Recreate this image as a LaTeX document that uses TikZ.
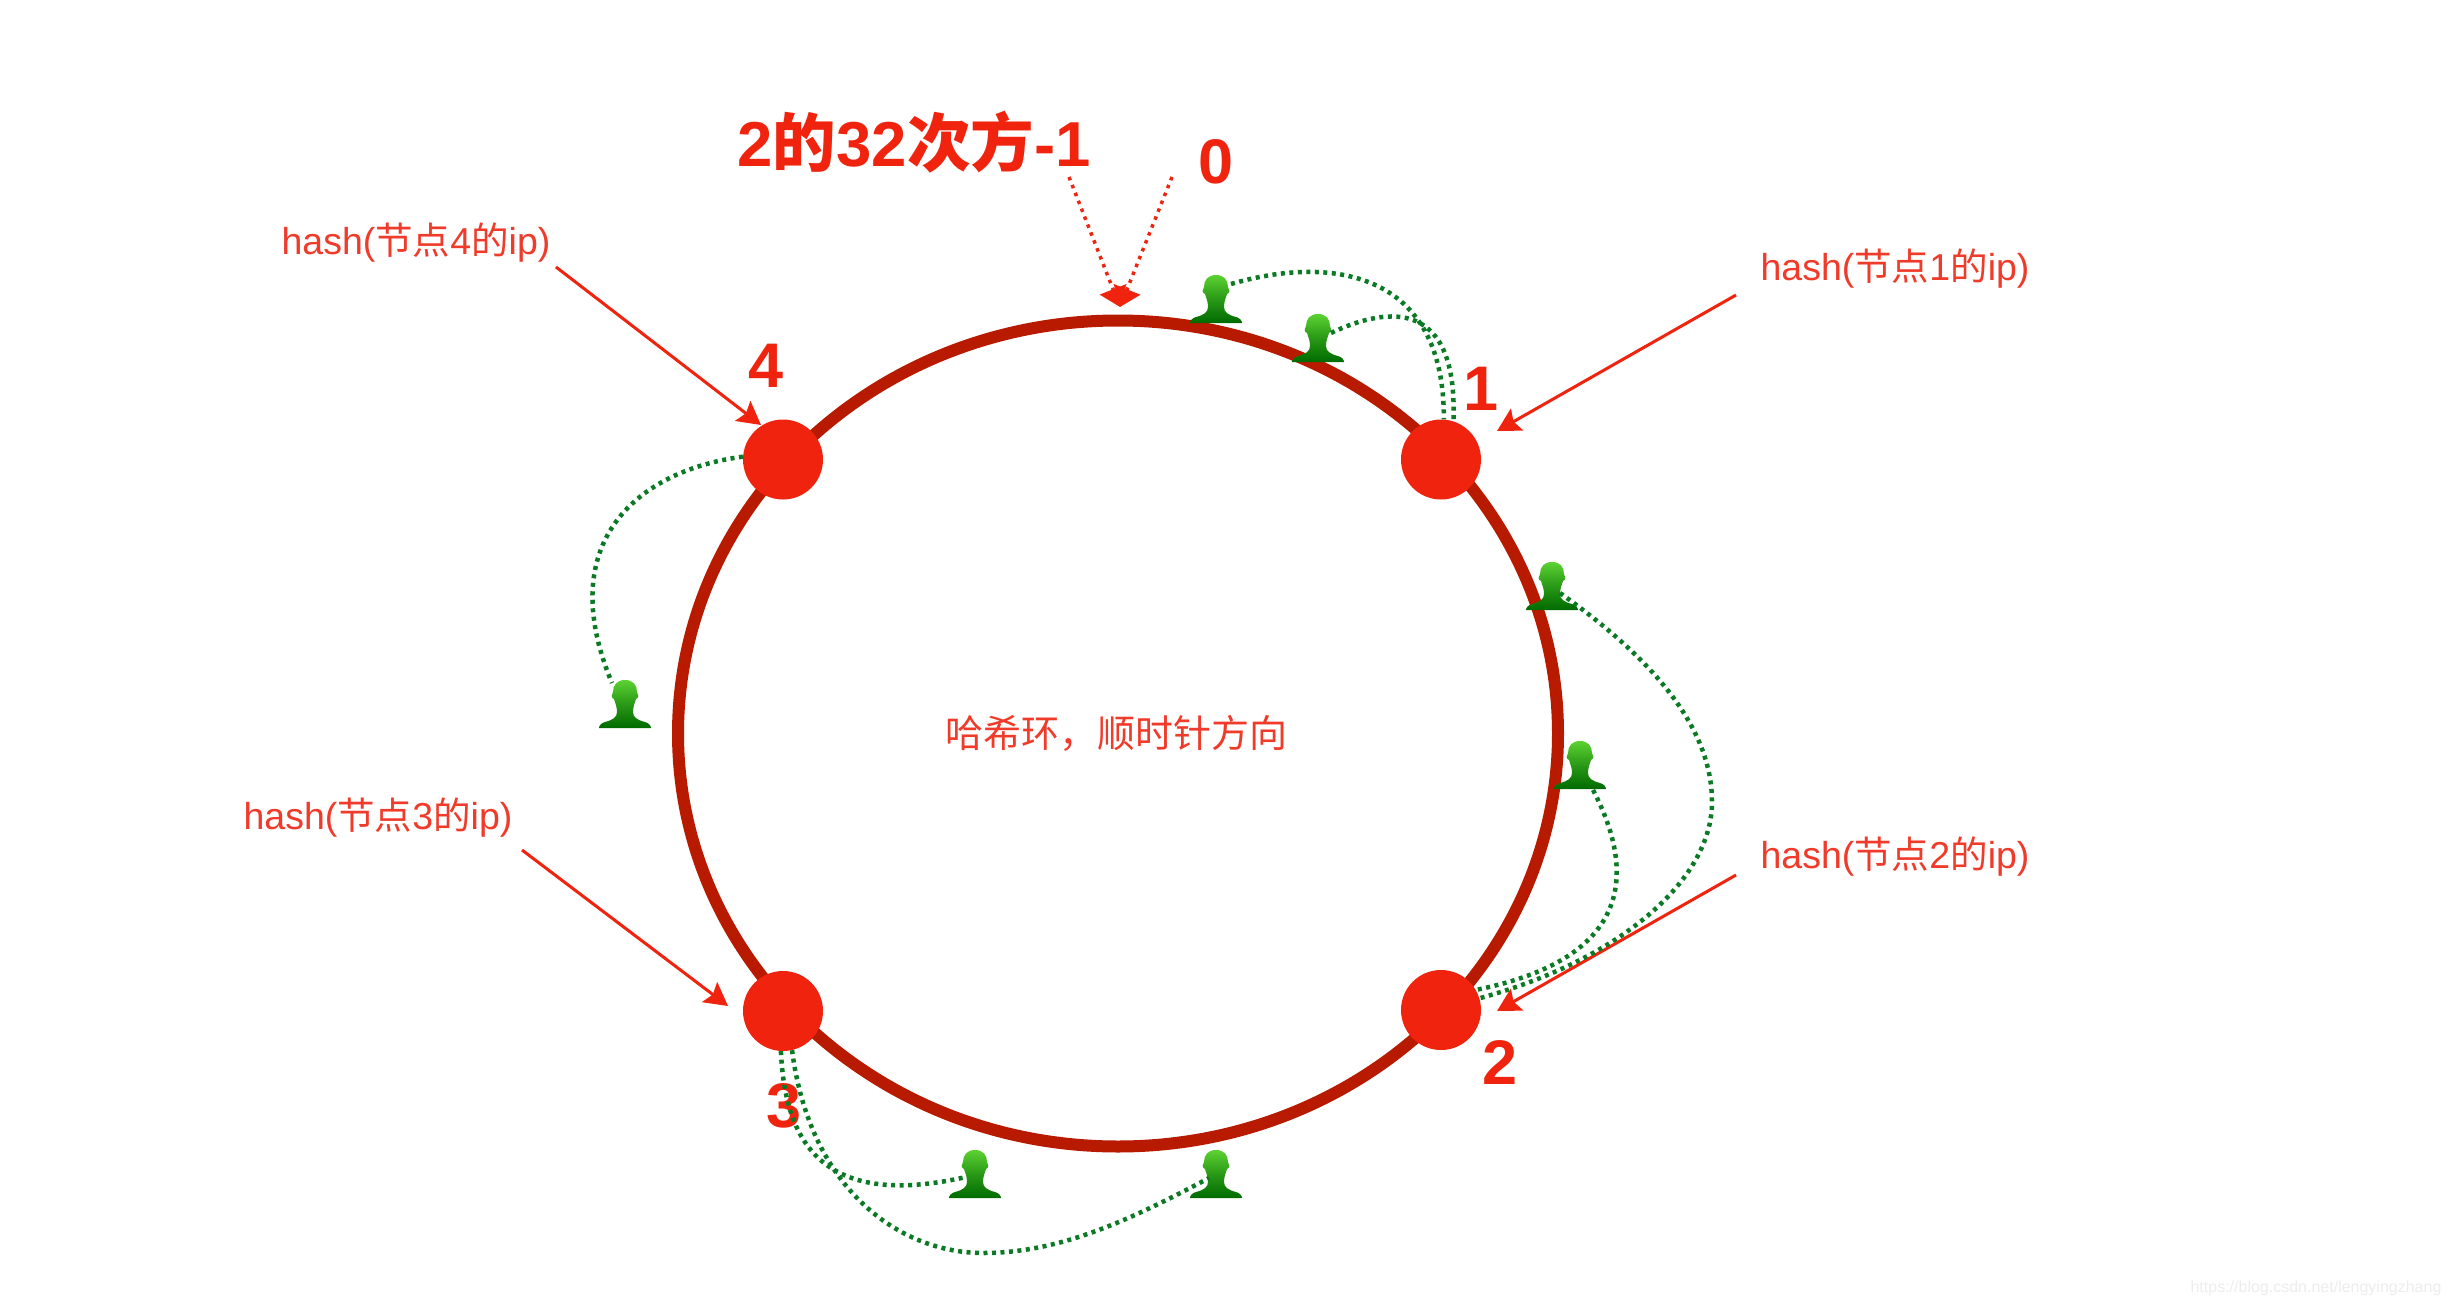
\documentclass[tikz,border=0pt]{standalone}
\usepackage{fontspec}
\usetikzlibrary{arrows.meta,calc,shapes.geometric}
\setmainfont{Liberation Sans}
\newfontfamily\cjk{Noto Sans CJK SC}
\definecolor{ringred}{HTML}{B81A00}
\definecolor{dotred}{HTML}{F0240E}
\definecolor{txtred}{HTML}{F03A2A}
\definecolor{dotgreen}{HTML}{0B7A24}
\definecolor{headtop}{HTML}{5CD232}
\definecolor{headbot}{HTML}{006A00}
\newcommand{\hashlabel}[1]{hash({\cjk 节点}#1{\cjk 的}ip)}
\tikzset{
  ringshape/.style={ellipse,draw=ringred,line width=12pt,minimum width=880pt,minimum height=826pt,inner sep=0pt},
  hashnode/.style={circle,fill=dotred,minimum size=80pt,inner sep=0pt},
  numlabel/.style={text=dotred,font=\fontsize{63}{70}\selectfont\bfseries,inner sep=0pt},
  hashtext/.style={text=txtred,font=\fontsize{37.5}{44}\selectfont,inner sep=0pt},
  personbox/.style={minimum width=52pt,minimum height=48pt,inner sep=0pt},
  arrowred/.style={draw=dotred,line width=3pt,-{Stealth[length=23pt,width=25pt,inset=4pt]}},
  dotarrow/.style={draw=dotred,line width=3.5pt,dash pattern=on 3.5pt off 5pt,-{Triangle[length=19pt,width=28pt,sep=0pt]}},
  dotcurve/.style={draw=dotgreen,line width=4.5pt,dash pattern=on 4pt off 4.5pt},
  person/.pic={
    \shade[top color=headtop,bottom color=headbot,middle color=headtop!45!headbot]
      (0,-24) .. controls (8,-24) and (12,-19) .. (12,-12)
      .. controls (14,-10) and (14,-6) .. (11,-5)
      .. controls (10,-1) and (8,2) .. (8,8)
      .. controls (8,13) and (12,16) .. (20,18)
      .. controls (24,19) and (26,22) .. (26,24)
      -- (-26,24)
      .. controls (-26,22) and (-24,19) .. (-20,18)
      .. controls (-12,16) and (-8,13) .. (-8,8)
      .. controls (-8,2) and (-10,-1) .. (-11,-5)
      .. controls (-14,-6) and (-14,-10) .. (-12,-12)
      .. controls (-12,-19) and (-8,-24) .. (0,-24) -- cycle;
  }
}
\newcommand{\personat}[3]{\node[personbox] (#1) at (#2,#3) {}; \pic at (#1) {person};}
\begin{document}
\begin{tikzpicture}[x=1pt,y=-1pt]
\useasboundingbox (0,0) rectangle (2450,1306);
\fill[white] (0,0) rectangle (2450,1306);
% ring and hash nodes
\node[ringshape] (ring) at (1118,733.5) {};
\node[hashnode] (n1) at (1441,459.5) {};
\node[hashnode] (n2) at (1441,1010) {};
\node[hashnode] (n3) at (783,1011) {};
\node[hashnode] (n4) at (783,459.5) {};
% texts
\node[text=dotred,font=\fontsize{63.5}{70}\selectfont\bfseries,inner sep=0pt] (title) at (914,142) {2{\cjk\bfseries 的}32{\cjk\bfseries 次方}-1};
\node[numlabel] (zero) at (1216,162) {0};
\node[numlabel] (l1) at (1481,389) {1};
\node[numlabel] (l2) at (1500,1062) {2};
\node[numlabel] (l3) at (784,1106) {3};
\node[numlabel] (l4) at (766,366) {4};
\node[hashtext] (h1) at (1895,269) {\hashlabel{1}};
\node[hashtext] (h2) at (1895,857) {\hashlabel{2}};
\node[hashtext] (h3) at (378,818) {\hashlabel{3}};
\node[hashtext] (h4) at (416,243) {\hashlabel{4}};
\node[hashtext,font=\fontsize{38}{44}\selectfont\cjk] (center) at (1116,733) {哈希环，顺时针方向};
\node[text=black!7,font=\fontsize{16}{18}\selectfont,inner sep=0pt] (mark) at (2316,1288) {https://blog.csdn.net/lengyingzhang};
% persons
\personat{p1}{1216}{299}
\personat{p2}{1318}{338}
\personat{p3}{1552}{586}
\personat{p4}{1580}{765}
\personat{p5}{625}{704}
\personat{p6}{975}{1174}
\personat{p7}{1216}{1174}
% free ends of the red arrows
\coordinate (s1) at (1736,295);
\coordinate (t1) at (1497,431);
\coordinate (s2) at (1736,875);
\coordinate (t2) at (1497,1011);
\coordinate (s3) at (522,850);
\coordinate (t3) at (728,1006);
\coordinate (s4) at (556,267);
\coordinate (t4) at (761,425);
\coordinate (d1) at (1069,177);
\coordinate (d2) at (1172,177);
\coordinate (dtip) at (1120,307);
\draw[arrowred] (s1) -- (t1);
\draw[arrowred] (s2) -- (t2);
\draw[arrowred] (s3) -- (t3);
\draw[arrowred] (s4) -- (t4);
\draw[dotarrow] (d1) -- (dtip);
\draw[dotarrow] (d2) -- (dtip);
% dotted green curves
\draw[dotcurve] ($(p1)+(15,-15)$) .. controls (1330,255) and (1445,270) .. (n1.86);
\draw[dotcurve] ($(p2)+(13,-5)$) .. controls (1390,305) and (1458,300) .. (n1.72);
\draw[dotcurve] ($(p3)+(8,7)$) .. controls (1640,650) and (1712,720) .. (1712,802)
   .. controls (1712,880) and (1620,960) .. (n2.17);
\draw[dotcurve] ($(p4)+(13,25)$) .. controls (1640,880) and (1625,960) .. (n2.30);
\draw[dotcurve] (n4.176) .. controls (640,470) and (552,540) .. ($(p5)+(-13,-21)$);
\draw[dotcurve] (n3.267) .. controls (785,1140) and (820,1210) .. ($(p6)+(-9,3)$);
\draw[dotcurve] (n3.283) .. controls (810,1190) and (900,1253) .. (983,1253)
   .. controls (1060,1253) and (1130,1220) .. ($(p7)+(-7,4)$);
\end{tikzpicture}
\end{document}
